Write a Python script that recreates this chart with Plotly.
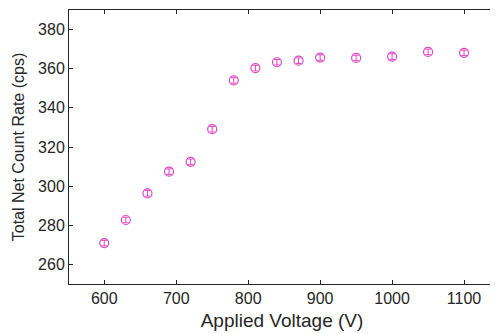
import plotly.graph_objects as go

voltage = [600, 630, 660, 690, 720, 750, 780, 810, 840, 870, 900, 950, 1000, 1050, 1100]
count_rate = [270.9, 282.7, 296.3, 307.4, 312.4, 329.1, 354.0, 360.3, 363.3, 364.1, 365.7, 365.5, 366.2, 368.6, 368.1]
errors = [1.4] * len(voltage)

x_ticks = [600, 700, 800, 900, 1000, 1100]
y_ticks = [260, 280, 300, 320, 340, 360, 380]

color = "#dd48c2"
axis_color = "#262626"

fig = go.Figure()
fig.add_trace(go.Scatter(
    x=voltage, y=count_rate, mode="markers",
    marker=dict(symbol="circle-open", size=9, color=color, line=dict(width=1.2, color=color)),
    error_y=dict(type="data", array=errors, visible=True, color=color, thickness=1, width=3),
    showlegend=False,
))

font_family = "Liberation Sans, Arial, sans-serif"
# page body has an 8px margin, so the figure is sized to fit the remaining window
fig.update_layout(
    width=490, height=326,
    margin=dict(l=61, r=3, t=2, b=50),
    paper_bgcolor="white", plot_bgcolor="white",
    font=dict(family=font_family, color=axis_color),
)
fig.update_xaxes(
    range=[551, 1143], tickvals=x_ticks, ticks="inside", ticklen=4, tickcolor=axis_color,
    showline=True, linecolor=axis_color, linewidth=1, mirror="ticks", showgrid=False, zeroline=False,
    tickfont=dict(size=16, color=axis_color), automargin=False,
    title=dict(text="Applied Voltage (V)", font=dict(size=19, color=axis_color), standoff=7),
)
fig.update_yaxes(
    range=[250, 390], tickvals=y_ticks, ticks="inside", ticklen=4, tickcolor=axis_color,
    showline=True, linecolor=axis_color, linewidth=1, mirror="ticks", showgrid=False, zeroline=False,
    tickfont=dict(size=16, color=axis_color), automargin=False,
    title=dict(text="Total Net Count Rate (cps)", font=dict(size=16, color=axis_color), standoff=9),
)

fig.write_html("out.html")
